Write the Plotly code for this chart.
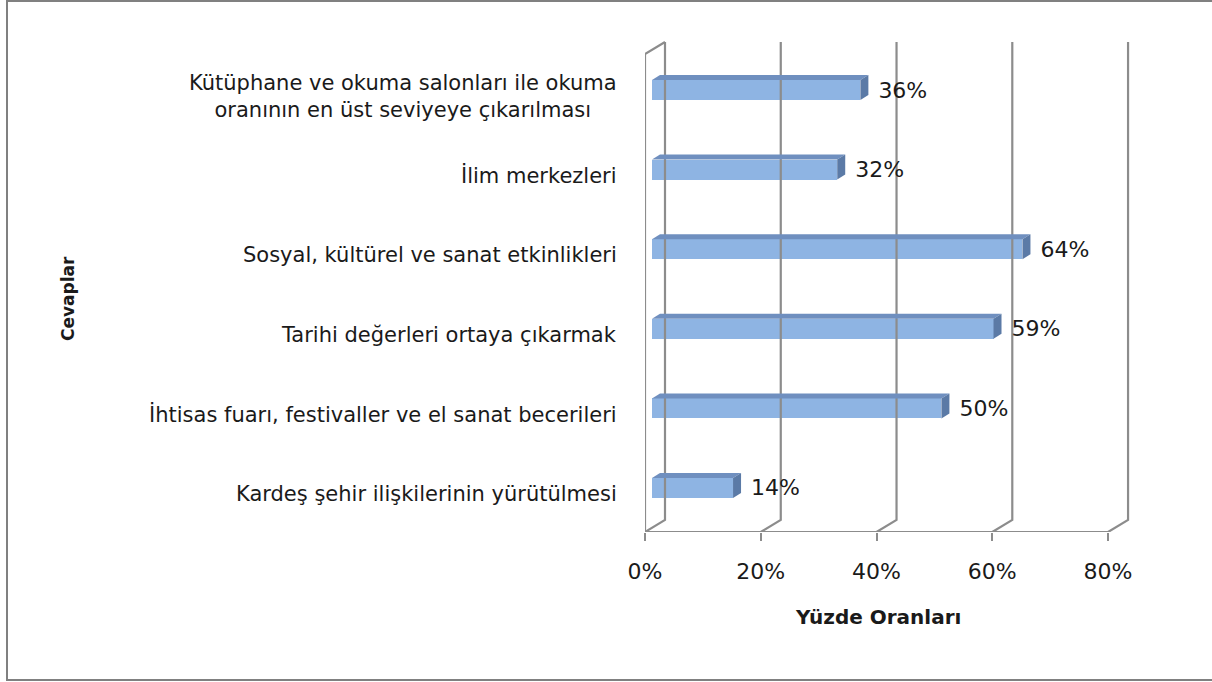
import plotly.graph_objects as go

# data
categories = [
    "Kardeş şehir ilişkilerinin yürütülmesi",
    "İhtisas fuarı, festivaller ve el sanat becerileri",
    "Tarihi değerleri ortaya çıkarmak",
    "Sosyal, kültürel ve sanat etkinlikleri",
    "İlim merkezleri",
    "Kütüphane ve okuma salonları ile okuma<br>oranının en üst seviyeye çıkarılması",
]
values = [14, 50, 59, 64, 32, 36]
x_ticks = [0, 20, 40, 60, 80]
x_tick_labels = ["0%", "20%", "40%", "60%", "80%"]

FONT = "DejaVu Sans"
GRID = "#8c8c8c"
FRONT = "#8eb4e3"
TOP = "#6f8fbf"
SIDE = "#5b7aa6"
TXT = "#1a1a1a"

# pixel geometry of the plot area
W, H = 1212, 682
L, R, T, B = 645, 75, 41, 150
pw, ph = W - L - R, H - T - B
x_rng = [0, 85]
y_rng = [-0.553, 5.616]
kx = pw / (x_rng[1] - x_rng[0])   # px per x unit
ky = ph / (y_rng[1] - y_rng[0])   # px per y unit

# 3d offsets (walls and bars)
wdx, wdy = 20 / kx, 12 / ky
bdx, bdy = 8 / kx, 5 / ky
base = 7 / kx
half = 10 / ky
floor = y_rng[0]
top_back = 5 + 48 / ky

ypos = list(range(len(categories)))

fig = go.Figure()

# back wall grid lines + floor slants
gx, gy = [], []
for t in x_ticks:
    gx += [t, t + wdx, t + wdx, None]
    gy += [floor, floor + wdy, top_back, None]
# front floor edge and left front edge
gx += [0, 80, None, 0, 0, wdx, None]
gy += [floor, floor, None, floor, top_back - wdy, top_back, None]
fig.add_trace(go.Scatter(x=gx, y=gy, mode="lines", line=dict(color=GRID, width=2.2),
                         hoverinfo="skip", showlegend=False))

# bar front faces
fig.add_trace(go.Bar(x=values, y=ypos, base=base, orientation="h", width=2 * half,
                     marker=dict(color=FRONT, line=dict(width=0)), showlegend=False))

# top and side faces
for v, c in zip(values, ypos):
    x1 = base + v
    fig.add_trace(go.Scatter(
        x=[base, x1, x1 + bdx, base + bdx, base],
        y=[c + half, c + half, c + half + bdy, c + half + bdy, c + half],
        fill="toself", fillcolor=TOP, mode="lines", line=dict(width=0),
        hoverinfo="skip", showlegend=False))
    fig.add_trace(go.Scatter(
        x=[x1, x1 + bdx, x1 + bdx, x1, x1],
        y=[c - half, c - half + bdy, c + half + bdy, c + half, c - half],
        fill="toself", fillcolor=SIDE, mode="lines", line=dict(width=0),
        hoverinfo="skip", showlegend=False))

# value labels
fig.add_trace(go.Scatter(
    x=[base + v + bdx + 10 / kx for v in values],
    y=[c - 2 / ky for c in ypos],
    mode="text", text=[f"{v}%" for v in values], textposition="middle right",
    textfont=dict(family=FONT, size=22, color=TXT),
    hoverinfo="skip", showlegend=False))

# category labels
for cat, c in zip(categories, ypos):
    fig.add_annotation(x=0, y=c - 6 / ky, xref="x", yref="y", text=cat,
                       xanchor="right", yanchor="middle", align="center",
                       xshift=-26, showarrow=False,
                       font=dict(family=FONT, size=21, color=TXT))

# axis titles
fig.add_annotation(x=(878 - L) / pw, y=(H - B - 617) / ph, xref="paper", yref="paper",
                   text="<b>Yüzde Oranları</b>", showarrow=False,
                   xanchor="center", yanchor="middle",
                   font=dict(family=FONT, size=20, color=TXT))
fig.add_annotation(x=(68 - L) / pw, y=(H - B - 299) / ph, xref="paper", yref="paper",
                   text="<b>Cevaplar</b>", showarrow=False, textangle=-90,
                   xanchor="center", yanchor="middle",
                   font=dict(family=FONT, size=17, color=TXT))

# outer frame
fig.add_shape(type="rect", xref="paper", yref="paper",
              x0=(7 - L) / pw, x1=(W + 10 - L) / pw,
              y0=(H - B - 680) / ph, y1=(H - B - 1) / ph,
              line=dict(color="#808080", width=2), fillcolor="rgba(0,0,0,0)")

fig.update_layout(
    width=W, height=H,
    margin=dict(l=L, r=R, t=T, b=B),
    paper_bgcolor="white", plot_bgcolor="white",
    bargap=0,
    xaxis=dict(range=x_rng, tickvals=x_ticks, ticktext=x_tick_labels,
               showgrid=False, zeroline=False, showline=False,
               ticks="outside", ticklen=8, tickwidth=2, tickcolor=GRID,
               ticklabelstandoff=12,
               tickfont=dict(family=FONT, size=22, color=TXT)),
    yaxis=dict(range=y_rng, showgrid=False, zeroline=False, showline=False,
               showticklabels=False, ticks=""),
)

# drop the default page margin so the figure sits at the window origin
fig.write_html("out.html", config={"displayModeBar": False},
               post_script="document.body.style.margin='0';")
